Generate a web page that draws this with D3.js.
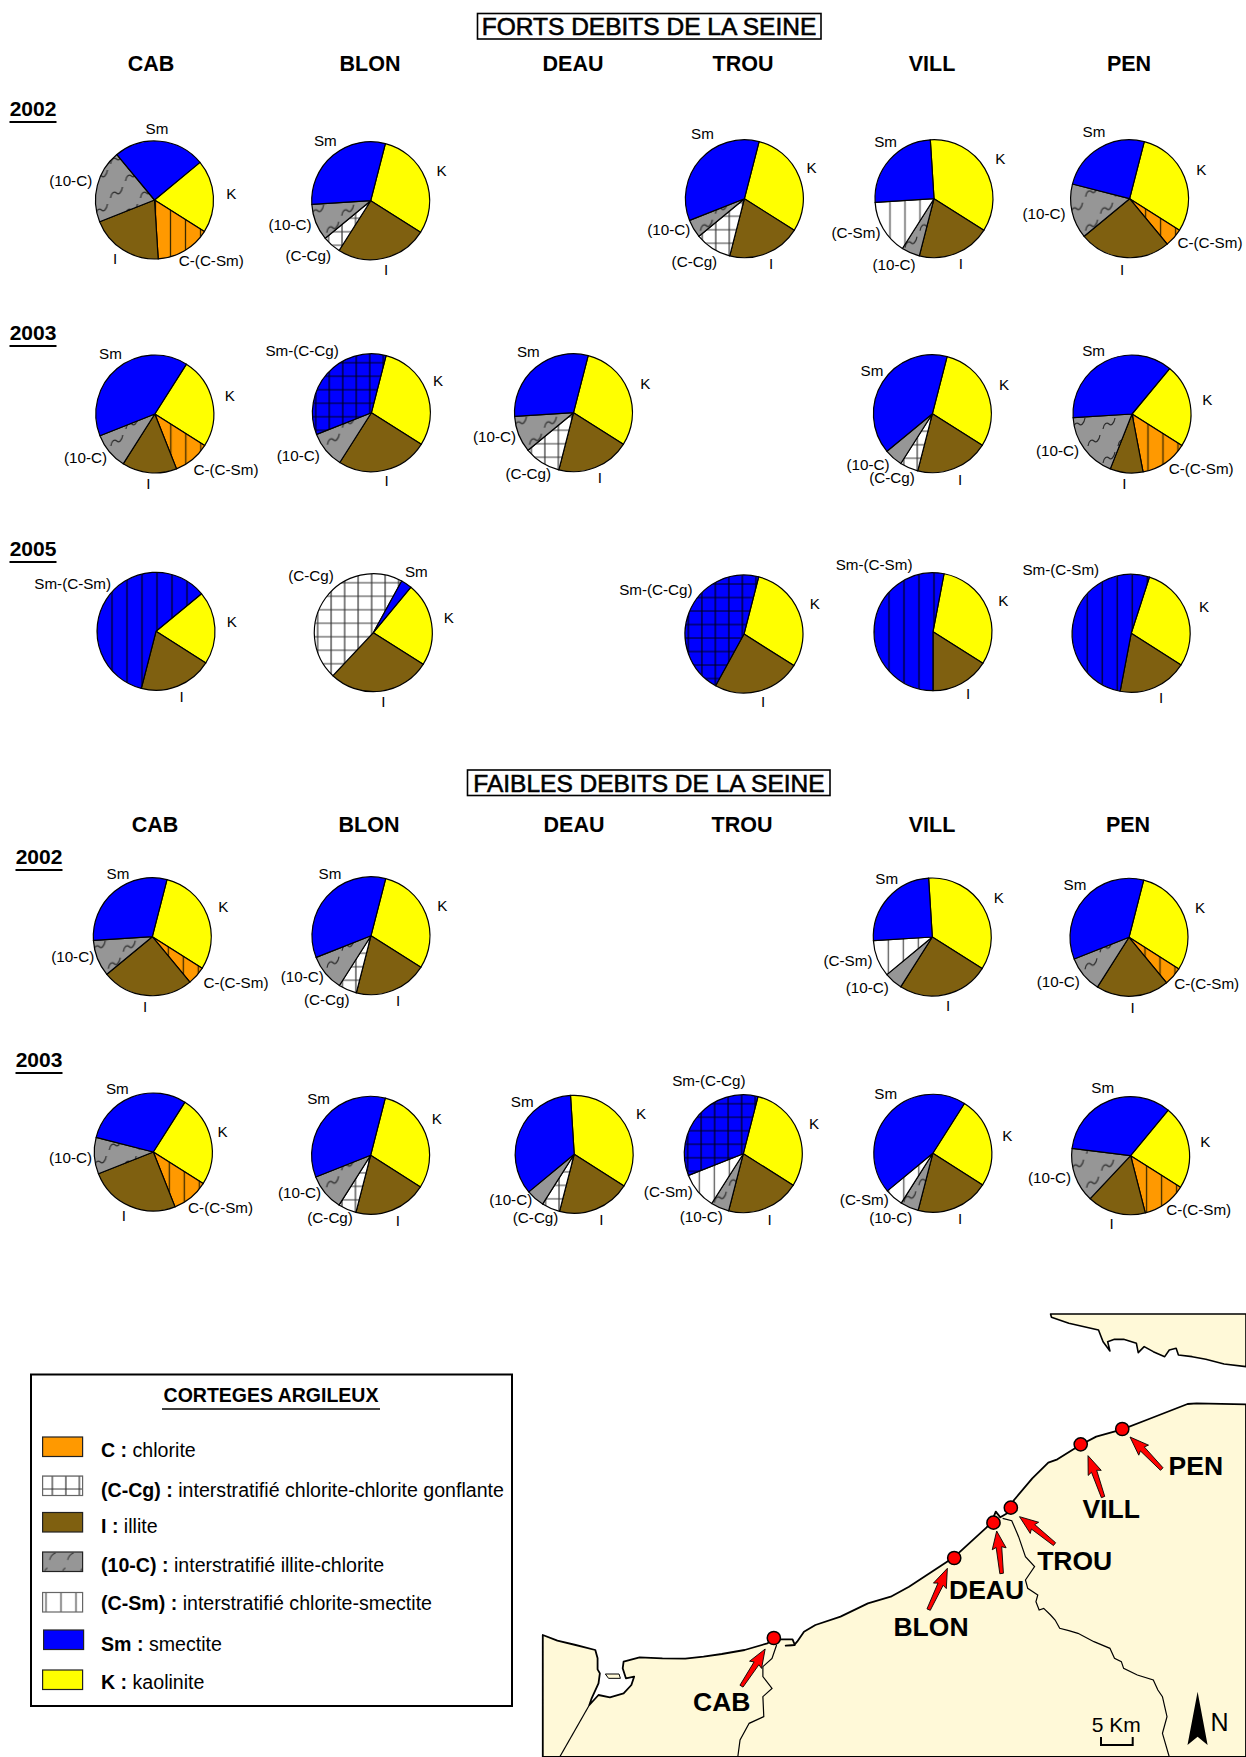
<!DOCTYPE html>
<html><head><meta charset="utf-8">
<script src="https://cdnjs.cloudflare.com/ajax/libs/d3/7.8.5/d3.min.js"></script>
<style>html,body{margin:0;padding:0;background:#fff}svg{display:block}text{font-family:"Liberation Sans",Arial,sans-serif;fill:#000}</style>
</head><body>
<script>
// ---------- categories ----------
const clayKeys=['K','C','I','CCg','IC','CSm','Sm','SmCCg','SmCSm'];
const siteNames=['CAB','BLON','DEAU','TROU','VILL','PEN'];
const rowNames=['F2002','F2003','F2005','L2002','L2003'];
const legendItems=[['C','C :',' chlorite'],['CCg','(C-Cg) :',' interstratifié chlorite-chlorite gonflante'],['I','I :',' illite'],['IC','(10-C) :',' interstratifié illite-chlorite'],['CSm','(C-Sm) :',' interstratifié chlorite-smectite'],['Sm','Sm :',' smectite'],['K','K :',' kaolinite']];

// ---------- values, % (K, C-(C-Sm), I, C-Cg, 10-C, C-Sm, Sm, Sm-(C-Cg), Sm-(C-Sm)) ----------
const forts2002Sites=['CAB','BLON','TROU','VILL','PEN'];
const forts2002Values=[[20,15,20,0,20,0,25,0,0],[30,0,25,5,10,0,30,0,0],[30,0,20,10,5,0,35,0,0],[35,0,20,0,5,15,25,0,0],[30,5,25,0,15,0,25,0,0]];
const forts2003Sites=['CAB','BLON','DEAU','VILL','PEN'];
const forts2003Values=[[25,10,15,0,10,0,40,0,0],[30,0,25,0,10,0,0,35,0],[30,0,20,10,10,0,30,0,0],[30,0,20,5,5,0,40,0,0],[23,13,9,0,18,0,37,0,0]];
const forts2005Sites=['CAB','BLON','TROU','VILL','PEN'];
const forts2005Values=[[20,0,20,0,0,0,0,0,60],[23,0,28,46,0,0,3,0,0],[30,0,24,0,0,0,0,46,0],[31,0,16,0,0,0,0,0,53],[29,0,19,0,0,0,0,0,52]];
const faibles2002Sites=['CAB','BLON','VILL','PEN'];
const faibles2002Values=[[30,5,25,0,10,0,30,0,0],[30,0,20,5,10,0,35,0,0],[35,0,25,0,5,10,25,0,0],[30,5,20,0,10,0,35,0,0]];
const faibles2003Sites=['CAB','BLON','DEAU','TROU','VILL','PEN'];
const faibles2003Values=[[25,10,25,0,10,0,30,0,0],[30,0,20,5,10,0,35,0,0],[35,0,20,5,5,0,35,0,0],[30,0,20,0,5,10,0,35,0],[25,0,20,0,5,5,45,0,0],[23,12,16,0,15,0,34,0,0]];

// ---------- layout (no data) ----------
const W=1246,H=1757,R=59,KEnd=122.4;
const colX=[154,371,574,744,933,1130], rowY=[199.5,413.5,632.5,936.5,1154];
const forts2002Nudge=[[.5,.5],[-.3,1.2],[.4,-.8],[1,-.8],[-.4,-.8]];
const forts2003Nudge=[[.8,.5],[.4,-.8],[-.5,-.8],[-.6,.2],[2,.5]];
const forts2005Nudge=[[2,-1.2],[2.3,.2],[0,1.5],[0,-.8],[1.2,.8]];
const faibles2002Nudge=[[-1.7,.2],[0,-.8],[-.7,.5],[-1,.8]];
const faibles2003Nudge=[[-.7,-2],[-.4,1.3],[.2,.3],[-.7,-.3],[-.2,-.7],[.6,1.7]];
const forts2002Labels=[[['Sm',157,128.7],['(10-C)',70.7,180.3],['K',231.3,193.3],['I',115,258.3],['C-(C-Sm)',211.3,260.3]],[['Sm',325.3,140.3],['(10-C)',290,224.3],['(C-Cg)',308.3,255.7],['I',386,269.3],['K',441.5,170.3]],[['Sm',702.4,133.7],['K',811.6,167.3],['(10-C)',668.8,229.3],['(C-Cg)',694.4,261.7],['I',771.2,263.3]],[['Sm',885.6,142],['K',1000.4,158.7],['(C-Sm)',856,232.7],['(10-C)',894,264.7],['I',960.8,264]],[['Sm',1094,132],['K',1201.2,169.3],['(10-C)',1044,213.3],['C-(C-Sm)',1210,242.7],['I',1122,269.3]]];
const forts2003Labels=[[['Sm',110.4,354],['K',229.8,395.3],['(10-C)',85.5,458],['C-(C-Sm)',226,470],['I',148.3,483.3]],[['Sm-(C-Cg)',302.1,350.7],['K',438,380.7],['(10-C)',298.3,456],['I',386.7,480.7]],[['Sm',528.3,352],['K',645.4,383.2],['(10-C)',494.6,436.7],['(C-Cg)',528.3,473.3],['I',599.9,477.3]],[['Sm',872,370.7],['K',1004,384.3],['(10-C)',868,464.7],['(C-Cg)',892,477.7],['I',960,479.3]],[['Sm',1093.6,350.3],['K',1207.2,400],['(10-C)',1057.6,450.7],['C-(C-Sm)',1201.2,468.3],['I',1124.4,484]]];
const forts2005Labels=[[['Sm-(C-Sm)',72.7,583.3],['K',231.7,622],['I',181.7,696.7]],[['(C-Cg)',311,575.3],['Sm',416.3,572],['K',448.7,618],['I',383.3,702]],[['Sm-(C-Cg)',655.9,589.3],['K',814.7,604],['I',763.1,701.7]],[['Sm-(C-Sm)',874.1,565],['K',1003.4,600.7],['I',968.2,693.3]],[['Sm-(C-Sm)',1060.8,570],['K',1204,606.7],['I',1161.1,697.3]]];
const faibles2002Labels=[[['Sm',118,873.7],['K',223.3,906.7],['(10-C)',72.7,957],['C-(C-Sm)',236,982.7],['I',145,1006.7]],[['Sm',330,874],['K',442.3,905.3],['(10-C)',302.3,976.7],['(C-Cg)',326.7,1000],['I',398,1000.7]],[['Sm',886.7,879],['K',998.7,897.3],['(C-Sm)',848,961],['(10-C)',867.3,988],['I',948,1006]],[['Sm',1075,884.3],['K',1200,907.7],['(10-C)',1058.3,981.7],['C-(C-Sm)',1206.7,983.3],['I',1132.7,1007.3]]];
const faibles2003Labels=[[['Sm',117.3,1088.3],['K',222.5,1132],['(10-C)',70.6,1157.3],['C-(C-Sm)',220.6,1208],['I',123.8,1216]],[['Sm',318.6,1098.7],['K',436.9,1118.3],['(10-C)',299.5,1192.3],['(C-Cg)',330.1,1217.3],['I',397.8,1221]],[['Sm',522.2,1101.3],['K',641,1113.8],['(10-C)',510.7,1200],['(C-Cg)',535.6,1218],['I',601.4,1219.3]],[['Sm-(C-Cg)',708.9,1080.7],['K',814.1,1123.3],['(C-Sm)',668.3,1191.3],['(10-C)',701.2,1216.7],['I',769.7,1219.3]],[['Sm',885.7,1093.3],['K',1007.4,1135.3],['(C-Sm)',864.3,1199.3],['(10-C)',890.7,1217.7],['I',960,1218.7]],[['Sm',1102.7,1087.3],['K',1205.3,1141.7],['(10-C)',1049.5,1177.7],['C-(C-Sm)',1198.7,1209.3],['I',1111.5,1223.3]]];
const fortsHeaderX=[151,370,573,743,932,1129], faiblesHeaderX=[155,369,574,742,932,1128];
const yearMarks=[['2002',33,108,122],['2003',33,332,346],['2005',33,548.6,562],['2002',39,856,870],['2003',39,1059,1073]];

// ---------- map geometry (traced in crop coordinates) ----------
const coast=[[28,1005],[60,1022],[100,1035],[143,1050],[148,1075],[148,1108],[153,1120],[150,1150],[135,1195],[130,1215],[150,1185],[175,1192],[205,1180],[222,1155],[228,1130],[210,1135],[203,1105],[205,1085],[240,1072],[290,1075],[340,1076],[380,1070],[420,1062],[470,1050],[520,1030],[535,1018],[575,1018],[580,1035],[560,1037],[578,1036],[585,1025],[600,995],[625,975],[680,950],[740,910],[790,890],[830,860],[880,815],[930,770],[1000,682],[1012,662],[1020,635],[1030,652],[1045,640],[1060,600],[1100,535],[1135,488],[1155,478],[1205,435],[1240,410],[1297,388],[1350,360],[1440,312],[1460,310],[1568,313],[1568,1371],[28,1371]];
const northShore=[[1140,42],[1142,52],[1180,70],[1245,90],[1255,125],[1270,153],[1265,125],[1280,118],[1300,118],[1328,130],[1332,158],[1345,140],[1365,155],[1390,170],[1400,150],[1415,145],[1420,165],[1450,170],[1480,178],[1520,192],[1568,200],[1568,42]];
const seine=[[1035,655],[1055,662],[1070,710],[1085,770],[1105,800],[1085,840],[1090,865],[1112,885],[1108,905],[1115,930],[1125,925],[1140,945],[1150,960],[1160,985],[1180,992],[1200,1000],[1235,1025],[1270,1045],[1280,1075],[1295,1085],[1300,1105],[1330,1125],[1365,1140],[1375,1170],[1385,1190],[1395,1250],[1385,1300],[1400,1371]];
const orne=[[540,1035],[530,1075],[510,1100],[510,1130],[530,1165],[510,1190],[512,1250],[480,1270],[460,1320],[455,1371]];
const canal=[[130,1215],[65,1371]];
const islet=[[165,1122],[195,1122],[198,1135],[172,1135]];
const siteDots=[['CAB',534,1014],['BLON',929,774],['DEAU',1015,668],['TROU',1053,623],['VILL',1206,433],['PEN',1297,387]];
const siteArrows=[[515,1047,465,1160],[914,805,875,930],[1022,693,1035,820],[1072,650,1150,730],[1222,467,1257,590],[1314,411,1385,505]];
const siteLabels=[['CAB',721.8,1701.7],['BLON',931,1626],['DEAU',986.6,1589.3],['TROU',1074.7,1560.7],['VILL',1111.3,1508.3],['PEN',1195.8,1465]];

// ---------- build ----------
const svg=d3.select('body').append('svg').attr('width',W).attr('height',H);
const defs=svg.append('defs');
const ORANGE='#ff9900',BLUE='#0000ff',YELLOW='#ffff00',BROWN='#7f6010',GRAY='#969696',LAND='#fff9d8';
function linePattern(id,bg,col,w,grid){
  const s=grid?13.5:15, h=grid?13.5:60;
  const p=defs.append('pattern').attr('id',id).attr('patternUnits','userSpaceOnUse').attr('width',s).attr('height',h)
    .attr('x',grid?-8.4:-6.5).attr('y',grid?-2.7:0);
  p.append('rect').attr('width',s).attr('height',h).attr('fill',bg);
  p.append('path').attr('d',grid?`M${s/2},0V${s}M0,${s/2}H${s}`:`M${s/2},0V${h}`).attr('stroke',col).attr('stroke-width',w).attr('fill','none');
}
linePattern('pC',ORANGE,'#3b2a00',1.3,false);
linePattern('pCSm','#fff','#555',1.3,false);
linePattern('pCCg','#fff','#333',1.2,true);
linePattern('pSmCCg',BLUE,'#000014',1.2,true);
linePattern('pSmCSm',BLUE,'#000014',1.2,false);
const pIC=defs.append('pattern').attr('id','pIC').attr('patternUnits','userSpaceOnUse').attr('width',30).attr('height',34);
pIC.append('rect').attr('width',30).attr('height',34).attr('fill',GRAY);
['M1,15C2,9 5,8 7,10C9,12 12,10 13,4','M16,32C17,26 20,25 22,27C24,29 27,27 28,21'].forEach(d=>pIC.append('path').attr('d',d).attr('fill','none').attr('stroke','#2a2a2a').attr('stroke-width',1.2));
const pICL=defs.append('pattern').attr('id','pICL').attr('patternUnits','userSpaceOnUse').attr('width',18).attr('height',19.5).attr('x',42.6).attr('y',1552);
pICL.append('rect').attr('width',18).attr('height',19.5).attr('fill',GRAY);
['M7,8C8,4 10,2 13,1','M2,19C3,17 4,16 5,16'].forEach(d=>pICL.append('path').attr('d',d).attr('fill','none').attr('stroke','#333').attr('stroke-width',1));
const clayFill=d3.scaleOrdinal().domain(clayKeys).range([YELLOW,'url(#pC)',BROWN,'url(#pCCg)','url(#pIC)','url(#pCSm)',BLUE,'url(#pSmCCg)','url(#pSmCSm)']);
const legendFill={C:ORANGE,IC:'url(#pICL)'};
const x=d3.scaleOrdinal().domain(siteNames).range(colX);
const y=d3.scaleOrdinal().domain(rowNames).range(rowY);
const arc=d3.arc().innerRadius(0).outerRadius(R);

const panels=[
 ['F2002',forts2002Sites,forts2002Values,forts2002Nudge,forts2002Labels],
 ['F2003',forts2003Sites,forts2003Values,forts2003Nudge,forts2003Labels],
 ['F2005',forts2005Sites,forts2005Values,forts2005Nudge,forts2005Labels],
 ['L2002',faibles2002Sites,faibles2002Values,faibles2002Nudge,faibles2002Labels],
 ['L2003',faibles2003Sites,faibles2003Values,faibles2003Nudge,faibles2003Labels]];
panels.forEach(([row,sites,vals,nudge,labels])=>{
  sites.forEach((s,i)=>{
    const v=vals[i],k=v[0];
    const startDeg=KEnd-k*3.6;
    const pie=d3.pie().sort(null).startAngle(startDeg*Math.PI/180).endAngle((startDeg+360)*Math.PI/180);
    const arcs=pie(v).map((a,j)=>({...a,key:clayKeys[j]})).filter(a=>a.value>0);
    const g=svg.append('g').attr('transform',`translate(${x(s)+nudge[i][0]},${y(row)+nudge[i][1]})`);
    g.selectAll('path').data(arcs).join('path').attr('d',arc).attr('fill',d=>clayFill(d.key)).attr('stroke','#000').attr('stroke-width',1.2).attr('stroke-linejoin','round');
    svg.append('g').selectAll('text').data(labels[i]).join('text').attr('x',d=>d[1]).attr('y',d=>d[2]).attr('dy','.36em').attr('text-anchor','middle').attr('font-size',15.2).text(d=>d[0]);
  });
});

// titles
function boxTitle(t,cx,cy,x0,x1,y0,y1){
  svg.append('rect').attr('x',x0).attr('y',y0).attr('width',x1-x0).attr('height',y1-y0).attr('fill','#fff').attr('stroke','#000').attr('stroke-width',1.6);
  svg.append('text').attr('x',cx).attr('y',cy).attr('dy','.36em').attr('text-anchor','middle').attr('font-size',24.5).attr('stroke','#000').attr('stroke-width',.6).text(t);
}
boxTitle('FORTS DEBITS DE LA SEINE',649,26,477.5,821,13.5,39);
boxTitle('FAIBLES DEBITS DE LA SEINE',649,783,467.5,830,770,795.5);
function headers(xs,yy){svg.append('g').selectAll('text').data(siteNames).join('text').attr('x',(d,i)=>xs[i]).attr('y',yy).attr('dy','.36em').attr('text-anchor','middle').attr('font-weight','bold').attr('font-size',21.5).text(d=>d);}
headers(fortsHeaderX,63);headers(faiblesHeaderX,824);
yearMarks.forEach(([t,xx,yy,u])=>{
  svg.append('text').attr('x',xx).attr('y',yy).attr('dy','.36em').attr('text-anchor','middle').attr('font-weight','bold').attr('font-size',21).text(t);
  svg.append('line').attr('x1',xx-23.5).attr('x2',xx+23.5).attr('y1',u).attr('y2',u).attr('stroke','#000').attr('stroke-width',2);
});

// legend
svg.append('rect').attr('x',31).attr('y',1374.5).attr('width',481).attr('height',331.5).attr('fill','#fff').attr('stroke','#000').attr('stroke-width',2);
svg.append('text').attr('x',271).attr('y',1395).attr('dy','.36em').attr('text-anchor','middle').attr('font-weight','bold').attr('font-size',19.5).text('CORTEGES ARGILEUX');
svg.append('line').attr('x1',162).attr('x2',380).attr('y1',1409).attr('y2',1409).attr('stroke','#000').attr('stroke-width',1.6);
const legendBoxY=[1437,1476,1512.5,1552,1592.5,1630,1670], legendTextY=[1449.5,1489.5,1525.5,1565,1602.5,1644,1682];
legendItems.forEach(([k,b,t],i)=>{
  svg.append('rect').attr('x',k==='Sm'?43.6:42.6).attr('y',legendBoxY[i]).attr('width',40).attr('height',19.5).attr('fill',legendFill[k]||clayFill(k)).attr('stroke',(k==='CCg'||k==='CSm')?'#666':'#222').attr('stroke-width',1.2);
  const tx=svg.append('text').attr('x',101).attr('y',legendTextY[i]).attr('dy','.36em').attr('font-size',19.6);
  tx.append('tspan').attr('font-weight','bold').text(b);
  tx.append('tspan').attr('xml:space','preserve').text(t);
});

// map
const mx=d3.scaleLinear().domain([0,1568]).range([530,1246]);
const my=d3.scaleLinear().domain([0,1371]).range([1300,1757]);
const geo=d3.line().x(d=>mx(d[0])).y(d=>my(d[1]));
const map=svg.append('g');
map.append('path').attr('d',geo(coast)+'Z').attr('fill',LAND).attr('stroke','#000').attr('stroke-width',1.8).attr('stroke-linejoin','round');
map.append('path').attr('d',geo(northShore)+'Z').attr('fill',LAND).attr('stroke','#000').attr('stroke-width',1.6).attr('stroke-linejoin','round');
map.append('path').attr('d',geo(islet)+'Z').attr('fill',LAND).attr('stroke','#000').attr('stroke-width',1);
[seine,orne,canal].forEach(r=>map.append('path').attr('d',geo(r)).attr('fill','none').attr('stroke','#000').attr('stroke-width',1.2));
siteDots.forEach(([n,a,b])=>map.append('circle').attr('cx',mx(a)).attr('cy',my(b)).attr('r',6.6).attr('fill','#ff0000').attr('stroke','#000').attr('stroke-width',1.5));
siteArrows.forEach(([a,b,c,d])=>{
  const tx=mx(a),ty=my(b),bx=mx(c),by=my(d),L=Math.hypot(bx-tx,by-ty),ux=(bx-tx)/L,uy=(by-ty)/L,nx=-uy,ny=ux;
  const pt=(t,w)=>[tx+ux*L*t+nx*w,ty+uy*L*t+ny*w];
  const pts=[pt(0,0),pt(.42,7),pt(.38,2.8),pt(1,2.8),pt(1,-.8),pt(.38,-2.8),pt(.42,-7)];
  map.append('path').attr('d',d3.line()(pts)+'Z').attr('fill','#ff0000').attr('stroke','#000').attr('stroke-width',.9);
});
map.append('g').selectAll('text').data(siteLabels).join('text').attr('x',d=>d[1]).attr('y',d=>d[2]).attr('dy','.36em').attr('text-anchor','middle').attr('font-weight','bold').attr('font-size',26.5).text(d=>d[0]);
map.append('text').attr('x',1116.3).attr('y',1724).attr('dy','.36em').attr('text-anchor','middle').attr('font-size',21).text('5 Km');
map.append('path').attr('d','M1101,1737V1745H1132.7V1737').attr('fill','none').attr('stroke','#000').attr('stroke-width',2);
map.append('path').attr('d','M1197.6,1691.7L1207.6,1745L1197.6,1736.7L1187.5,1745Z').attr('fill','#000');
map.append('text').attr('x',1219.5).attr('y',1721.7).attr('dy','.36em').attr('text-anchor','middle').attr('font-size',25).text('N');
</script>
</body></html>
